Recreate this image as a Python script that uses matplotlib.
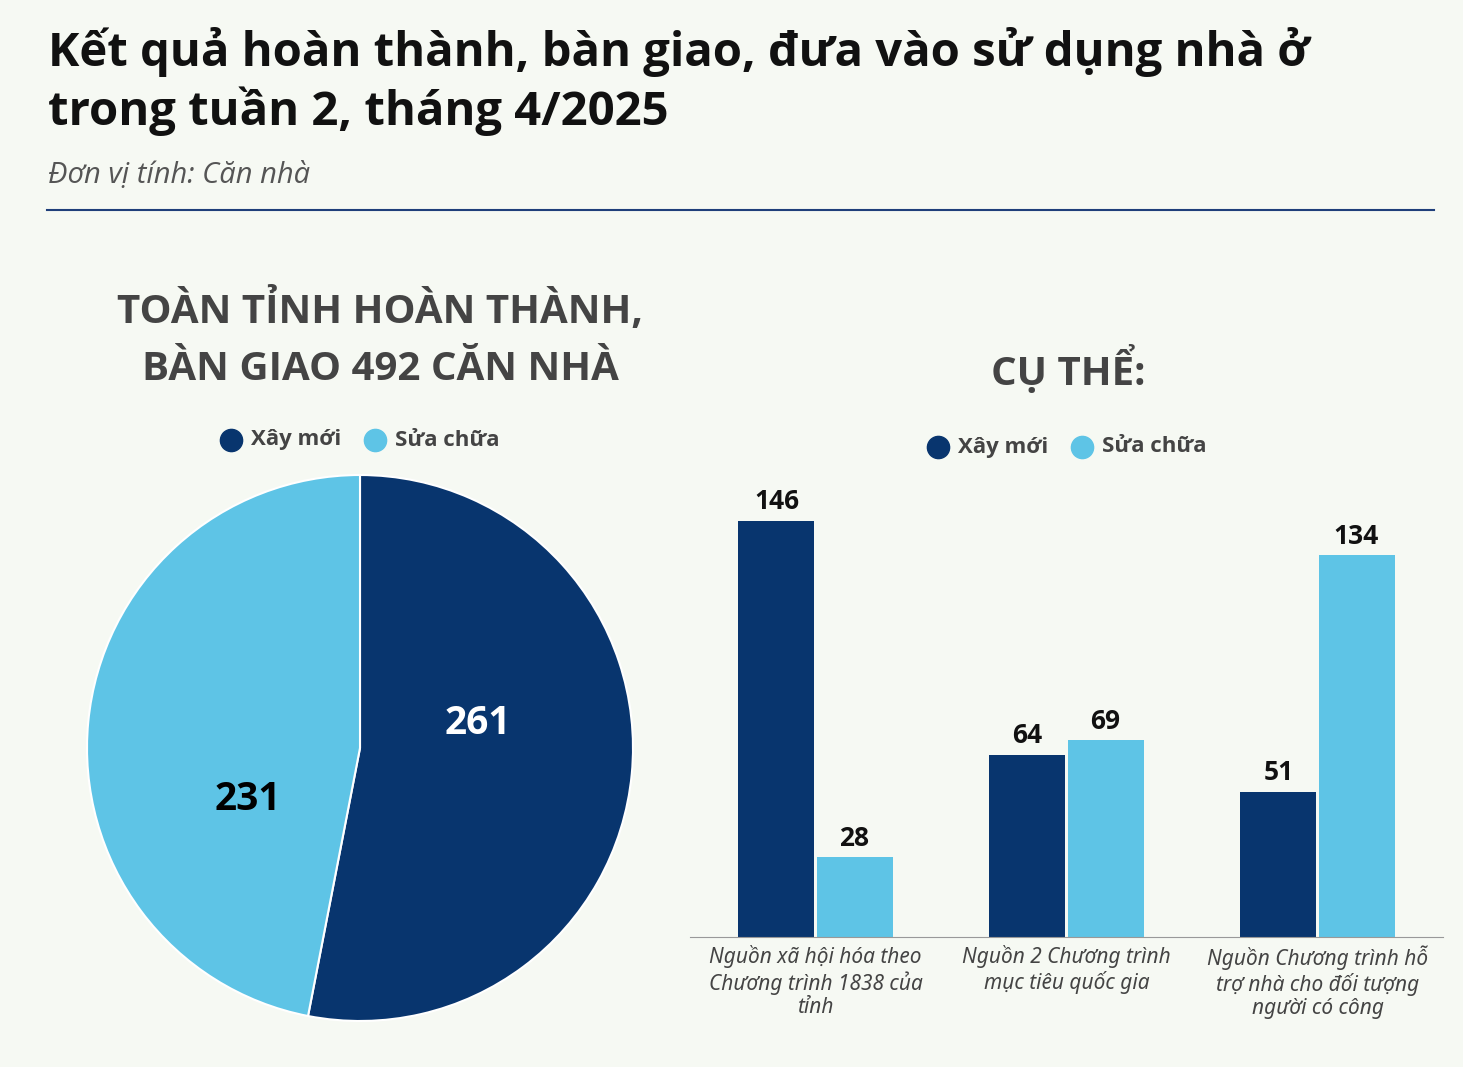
import matplotlib
matplotlib.use("Agg")
import matplotlib.pyplot as plt
from matplotlib.lines import Line2D
import numpy as np

categories = ["Nguồn xã hội hóa theo\nChương trình 1838 của\ntỉnh",
              "Nguồn 2 Chương trình\nmục tiêu quốc gia",
              "Nguồn Chương trình hỗ\ntrợ nhà cho đối tượng\nngười có công"]
xay_moi = [146, 64, 51]
sua_chua = [28, 69, 134]
pie_labels = ["Xây mới", "Sửa chữa"]
pie_values = [261, 231]

BG = "#f6f9f3"; DARK = "#08356e"; LIGHT = "#5ec4e6"; GRAY = "#444444"
FT = "Open Sans"

fig = plt.figure(figsize=(14.63, 10.67), dpi=100, facecolor=BG)
W, H = 1463, 1067
def fx(x): return x / W
def fy(y): return 1 - y / H

fig.text(fx(48), fy(52), "Kết quả hoàn thành, bàn giao, đưa vào sử dụng nhà ở", fontsize=34, fontweight="bold", family=FT, va="center", color="#111111")
fig.text(fx(48), fy(111), "trong tuần 2, tháng 4/2025", fontsize=34, fontweight="bold", family=FT, va="center", color="#111111")
fig.text(fx(48), fy(176), "Đơn vị tính: Căn nhà", fontsize=21, style="italic", family=FT, va="center", color="#555555")
fig.add_artist(Line2D([fx(47), fx(1434)], [fy(210), fy(210)], color="#1f3f7a", lw=1.5))

fig.text(fx(380), fy(310), "TOÀN TỈNH HOÀN THÀNH,", fontsize=29, fontweight="bold", family=FT, ha="center", va="center", color=GRAY)
fig.text(fx(380), fy(370), "BÀN GIAO 492 CĂN NHÀ", fontsize=29, fontweight="bold", family=FT, ha="center", va="center", color=GRAY)
fig.text(fx(1068), fy(370), "CỤ THỂ:", fontsize=29, fontweight="bold", family=FT, ha="center", va="center", color=GRAY)

def legend(y, xs):
    for (x, lab, c) in zip(xs, pie_labels, [DARK, LIGHT]):
        fig.add_artist(Line2D([fx(x)], [fy(y)], marker="o", ms=16, color=c, lw=0))
        fig.text(fx(x + 20), fy(y), lab, fontsize=16, fontweight="bold", family=FT, va="center", color=GRAY)
legend(440, [231, 375])
legend(447, [938, 1082])

# Pie
axp = fig.add_axes([fx(87), fy(1021), 546 / W, 546 / H])
axp.pie(pie_values, colors=[DARK, LIGHT], startangle=90, counterclock=False, radius=1,
        wedgeprops=dict(edgecolor="white", linewidth=1.5))
axp.set_xlim(-1, 1); axp.set_ylim(-1, 1)
axp.set_aspect("equal")
pos = [(0.43, 0.09), (-0.41, -0.19)]
for v, c, (px, py) in zip(pie_values, ["white", "black"], pos):
    axp.text(px, py, str(v), ha="center", va="center", fontsize=28, fontweight="bold", family=FT, color=c)

# Bars
axb = fig.add_axes([fx(690), fy(937), 753 / W, 457 / H])
axb.set_facecolor(BG)
x = np.arange(len(categories))
w = 0.303
b1 = axb.bar(x - w / 2 - 0.004, xay_moi, w, color=DARK)
b2 = axb.bar(x + w / 2 + 0.004, sua_chua, w, color=LIGHT)
for bars in (b1, b2):
    for b in bars:
        axb.text(b.get_x() + b.get_width() / 2, b.get_height() + 2, str(int(b.get_height())),
                 ha="center", va="bottom", fontsize=19, fontweight="bold", family=FT, color="#111111")
axb.set_xlim(-0.5, 2.5)
axb.set_ylim(0, 160.4)
axb.set_yticks([])
axb.set_xticks(x)
axb.set_xticklabels(categories, fontsize=15, style="italic", family="Noto Sans", color="#444444", linespacing=1.15)
axb.tick_params(axis="x", length=0, pad=6)
for s in ["top", "right", "left"]:
    axb.spines[s].set_visible(False)
axb.spines["bottom"].set_color("#999999")

fig.savefig("out.png", dpi=100, facecolor=BG)
